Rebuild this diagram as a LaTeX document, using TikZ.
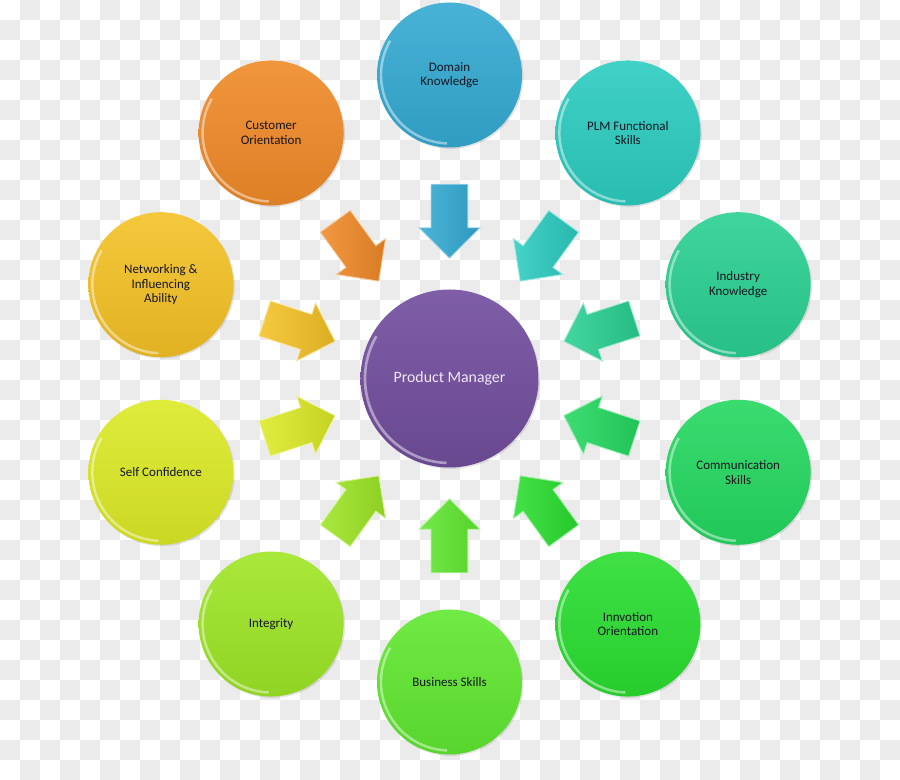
\documentclass[tikz,border=0pt]{standalone}
\usepackage{fontspec}
\setmainfont{Carlito}
\usepackage{xcolor}
\usepackage{tikz}
\usetikzlibrary{shapes.arrows, shadows}
\definecolor{cdomain}{RGB}{52,170,210}
\definecolor{cplm}{RGB}{44,204,192}
\definecolor{cindustry}{RGB}{42,208,146}
\definecolor{ccomm}{RGB}{36,216,96}
\definecolor{cinnov}{RGB}{42,222,48}
\definecolor{cbusiness}{RGB}{96,232,48}
\definecolor{cintegrity}{RGB}{158,230,38}
\definecolor{cselfconf}{RGB}{220,234,38}
\definecolor{cnetwork}{RGB}{244,194,38}
\definecolor{ccustomer}{RGB}{240,138,40}
\definecolor{cpm}{RGB}{116,80,160}
\definecolor{txtdark}{RGB}{22,22,34}
\definecolor{txtpm}{RGB}{240,232,248}
\definecolor{checkgray}{RGB}{235,235,235}
\tikzset{
  skill/.style={circle, minimum size=2.9cm, inner sep=0pt, align=center,
    font=\fontsize{7.4}{8.3}\selectfont, text=txtdark,
    top color=#1!90!white, bottom color=#1!92!black,
    drop shadow={opacity=0.22, shadow xshift=0.8pt, shadow yshift=-0.8pt},
    path picture={\draw[white, opacity=0.45, line width=1.4pt]
      ([shift={(150:1.37cm)}]path picture bounding box.center)
      arc[start angle=150, end angle=268, radius=1.37cm];}},
  hub/.style={circle, minimum size=3.56cm, inner sep=0pt, align=center,
    font=\fontsize{9}{11}\selectfont, text=txtpm,
    top color=cpm!92!white, bottom color=cpm!90!black,
    drop shadow={opacity=0.22, shadow xshift=0.8pt, shadow yshift=-0.8pt},
    path picture={\draw[white, opacity=0.45, line width=1.5pt]
      ([shift={(150:1.69cm)}]path picture bounding box.center)
      arc[start angle=150, end angle=268, radius=1.69cm];}},
  skillarrow/.style={single arrow, minimum height=1.48cm,
    single arrow head extend=0.24cm, single arrow head indent=0pt,
    inner xsep=0pt, inner ysep=0.36cm, draw=#1!45!white, line width=0.5pt,
    left color=#1!88!white, right color=#1!90!black}
}

\begin{document}
\begin{tikzpicture}
  \useasboundingbox (-8.99,-8.03) rectangle (9.01,7.57);
  % transparency checkerboard
  \foreach \i in {0,...,44}{
    \foreach \j in {0,...,38}{
      \ifodd\numexpr\i+\j\relax
        \fill[checkgray] (-8.99+0.4*\i,7.57-0.4*\j) rectangle ++(0.4,-0.4);
      \fi}}

  % centre
  \node[hub] (pm) at (0,0) {Product Manager};

  % skills on the ring
  \node[skill=cdomain] (domain) at (90:6.07) {Domain\\Knowledge};
  \node[skill=cplm] (plm) at (54:6.07) {PLM Functional\\Skills};
  \node[skill=cindustry] (industry) at (18:6.07) {Industry\\Knowledge};
  \node[skill=ccomm] (comm) at (-18:6.07) {Communication\\Skills};
  \node[skill=cinnov] (innov) at (-54:6.07) {Innvotion\\Orientation};
  \node[skill=cbusiness] (business) at (-90:6.07) {Business Skills};
  \node[skill=cintegrity] (integrity) at (-126:6.07) {Integrity};
  \node[skill=cselfconf] (selfconf) at (-162:6.07) {Self Confidence};
  \node[skill=cnetwork] (network) at (162:6.07) {Networking \&\\Influencing\\Ability};
  \node[skill=ccustomer] (customer) at (126:6.07) {Customer\\Orientation};

  % arrows into the centre
  \node[skillarrow=cdomain, rotate=270] (adomain) at (90:3.33) {};
  \node[skillarrow=cplm, rotate=234] (aplm) at (54:3.33) {};
  \node[skillarrow=cindustry, rotate=198] (aindustry) at (18:3.33) {};
  \node[skillarrow=ccomm, rotate=162] (acomm) at (-18:3.33) {};
  \node[skillarrow=cinnov, rotate=126] (ainnov) at (-54:3.33) {};
  \node[skillarrow=cbusiness, rotate=90] (abusiness) at (-90:3.33) {};
  \node[skillarrow=cintegrity, rotate=54] (aintegrity) at (-126:3.33) {};
  \node[skillarrow=cselfconf, rotate=18] (aselfconf) at (-162:3.33) {};
  \node[skillarrow=cnetwork, rotate=-18] (anetwork) at (162:3.33) {};
  \node[skillarrow=ccustomer, rotate=-54] (acustomer) at (126:3.33) {};
\end{tikzpicture}
\end{document}
